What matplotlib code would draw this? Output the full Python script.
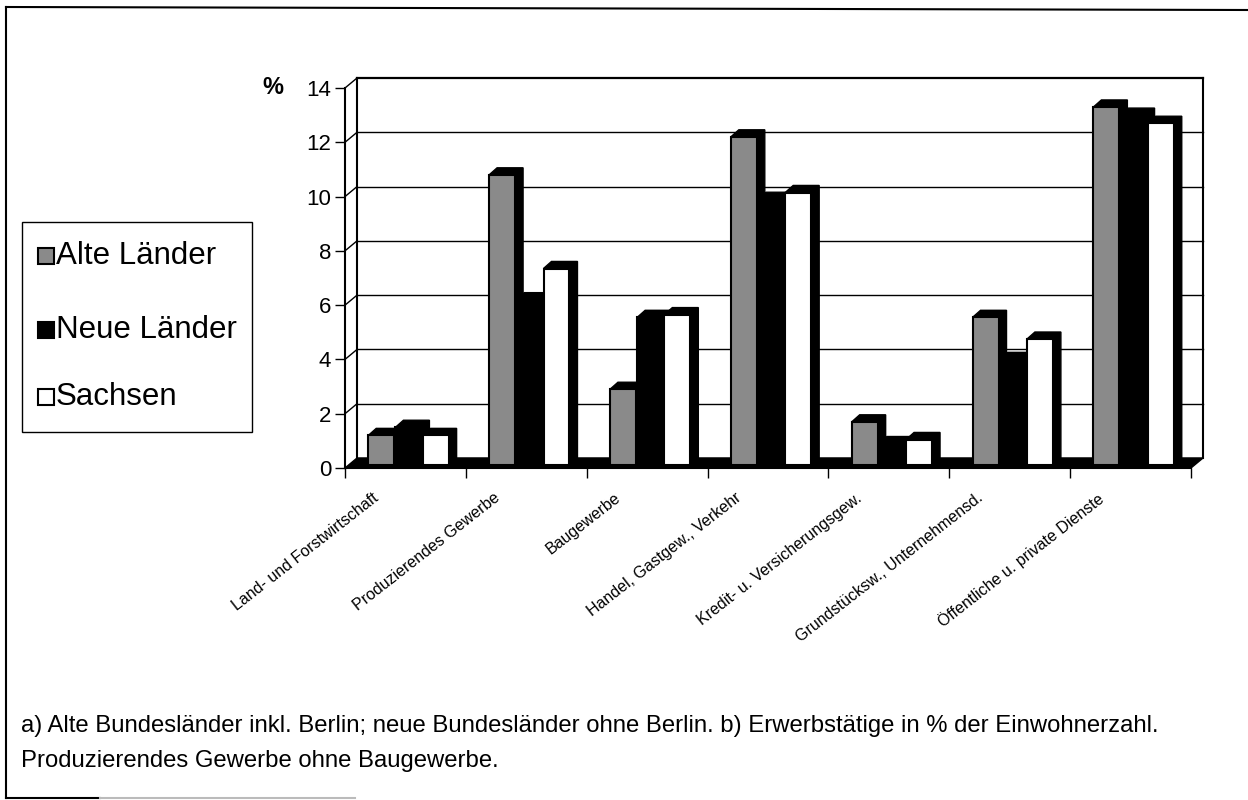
import numpy as np
import matplotlib.pyplot as plt
from matplotlib.patches import Rectangle, Polygon
from matplotlib.lines import Line2D
from matplotlib.transforms import ScaledTranslation

plt.rcParams['font.family'] = ['Liberation Sans', 'DejaVu Sans']

# Daten
kategorien = ['Land- und Forstwirtschaft', 'Produzierendes Gewerbe', 'Baugewerbe',
              'Handel, Gastgew., Verkehr', 'Kredit- u. Versicherungsgew.',
              'Grundstücksw., Unternehmensd.', 'Öffentliche u. private Dienste']
alte_laender = [1.1, 10.7, 2.8, 12.1, 1.6, 5.45, 13.2]
neue_laender = [1.4, 6.1, 5.45, 9.8, 0.8, 3.9, 12.9]
sachsen = [1.1, 7.25, 5.55, 10.05, 0.95, 4.65, 12.6]
serien = ['Alte Länder', 'Neue Länder', 'Sachsen']
y_ticks = [0, 2, 4, 6, 8, 10, 12, 14]
fussnote = ['a) Alte Bundesländer inkl. Berlin; neue Bundesländer ohne Berlin. '
            'b) Erwerbstätige in % der Einwohnerzahl.',
            'Produzierendes Gewerbe ohne Baugewerbe.']

W, H = 1248, 800
fig = plt.figure(figsize=(W / 100, H / 100), dpi=100)


def fx(x):
    return x / W


def fy(y):
    return 1 - y / H


ax = fig.add_axes([fx(345), fy(468), fx(1191) - fx(345), fy(88) - fy(468)])
ax.set_xlim(-0.5, 6.5)
ax.set_ylim(0, 14)
ax.patch.set_visible(False)
for s in ['top', 'right']:
    ax.spines[s].set_visible(False)
ax.spines['left'].set_linewidth(1.5)
ax.spines['bottom'].set_linewidth(1.5)

# Rueckwand (3D-Versatz)
wx, wy = 0.1, 0.37
for v in y_ticks[1:]:
    lw = 1.6 if v == y_ticks[-1] else 1.0
    ax.plot([-0.5 + wx, 6.5 + wx], [v + wy, v + wy], color='black', lw=lw, clip_on=False, zorder=1)
    ax.plot([-0.5, -0.5 + wx], [v, v + wy], color='black', lw=1.0, clip_on=False, zorder=1)
ax.plot([-0.5 + wx] * 2, [wy, 14 + wy], color='black', lw=1.5, clip_on=False, zorder=1)
ax.plot([6.5 + wx] * 2, [wy, 14 + wy], color='black', lw=1.5, clip_on=False, zorder=1)

# Boden
ax.add_patch(Polygon([(-0.5, 0), (6.5, 0), (6.5 + wx, wy), (-0.5 + wx, wy)],
                     closed=True, fc='black', ec='black', lw=1, clip_on=False, zorder=2))

# Saeulen mit Tiefe
breite = 0.215
versatz = [-0.2, 0.025, 0.25]
farben = ['#8a8a8a', 'black', 'white']
bx, by = 0.066, 0.26
basis = 0.1
x = np.arange(len(kategorien))
for i, (werte, farbe) in enumerate(zip([alte_laender, neue_laender, sachsen], farben)):
    for xi, v in zip(x + versatz[i], werte):
        l, r, t = xi - breite / 2, xi + breite / 2, basis + v
        ax.add_patch(Polygon([(r, basis), (r + bx, basis + by), (r + bx, t + by),
                              (l + bx, t + by), (l, t), (r, t)],
                             closed=True, fc='black', ec='black', lw=1, zorder=3 + 2 * i))
    ax.bar(x + versatz[i], werte, breite, bottom=basis, color=farbe,
           edgecolor='black', linewidth=1.5, zorder=4 + 2 * i)

# Achsen
ax.set_yticks(y_ticks)
ax.tick_params(axis='y', length=7, width=1, labelsize=16, pad=3)
ax.set_xticks(np.arange(-0.5, 7.0, 1.0))
ax.set_xticklabels([])
ax.set_xticks(x, minor=True)
ax.set_xticklabels(kategorien, minor=True, rotation=38, ha='right', va='top', fontsize=11.5)
ax.tick_params(axis='x', which='major', length=7, width=1, direction='out')
ax.tick_params(axis='x', which='minor', length=0, pad=16)
verschiebung = ScaledTranslation(-24 / 100, 0, fig.dpi_scale_trans)
for lab in ax.get_xticklabels(minor=True):
    lab.set_transform(lab.get_transform() + verschiebung)

fig.text(fx(262), fy(88), '%', fontsize=17, fontweight='bold', va='center', ha='left')

# Legende (von Hand)
fig.patches.append(Rectangle((fx(22), fy(432)), fx(252) - fx(22), fy(222) - fy(432),
                             transform=fig.transFigure, fill=False, ec='black', lw=1))
leg_y = [256, 330, 397]
for name, farbe, yy in zip(serien, farben, leg_y):
    fig.patches.append(Rectangle((fx(38), fy(yy + 8)), fx(54) - fx(38), fy(yy - 8) - fy(yy + 8),
                                 transform=fig.transFigure, fc=farbe, ec='black', lw=1.5))
    fig.text(fx(56), fy(yy), name, fontsize=22.5, va='center', ha='left')

# Fussnote
fig.text(fx(21), fy(732), fussnote[0], fontsize=17.2, va='baseline', ha='left')
fig.text(fx(21), fy(767), fussnote[1], fontsize=17.2, va='baseline', ha='left')

# Rahmen
fig.lines.append(Line2D([fx(6), fx(1248)], [fy(7), fy(10)], transform=fig.transFigure, color='black', lw=1.5))
fig.lines.append(Line2D([fx(6), fx(6)], [fy(7), fy(798)], transform=fig.transFigure, color='black', lw=1.5))
fig.lines.append(Line2D([fx(6), fx(100)], [fy(798), fy(798)], transform=fig.transFigure, color='black', lw=1.5))
fig.lines.append(Line2D([fx(100), fx(355)], [fy(798), fy(798)], transform=fig.transFigure, color='#bbbbbb', lw=1.5))

fig.savefig('out.png', dpi=100)
